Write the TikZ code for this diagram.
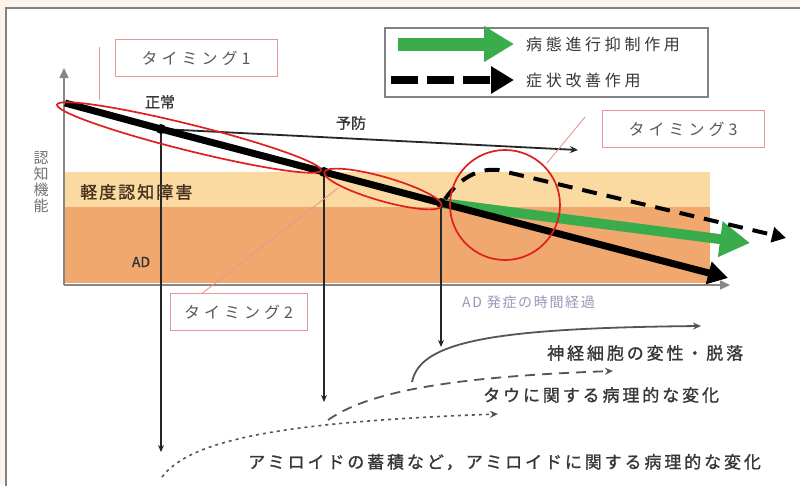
\documentclass[tikz,border=0pt]{standalone}
\usepackage{fontspec}
\usetikzlibrary{arrows.meta}
\newfontfamily\jp{Noto Sans CJK JP}
\newfontfamily\jpb[FakeBold=1.2]{Noto Sans CJK JP}
\definecolor{creamc}{RGB}{252,244,236}
\definecolor{framec}{RGB}{130,130,130}
\definecolor{lightband}{RGB}{250,218,160}
\definecolor{orangeband}{RGB}{240,168,110}
\definecolor{greenc}{RGB}{58,172,75}
\definecolor{redc}{RGB}{225,30,30}
\definecolor{pinkc}{RGB}{232,150,150}
\definecolor{axisc}{RGB}{135,135,135}
\definecolor{txtc}{RGB}{55,55,55}
\definecolor{brownc}{RGB}{70,50,30}
\definecolor{lavc}{RGB}{150,150,185}
\definecolor{curvec}{RGB}{85,85,85}
\begin{document}
\begin{tikzpicture}[x=1pt,y=-1pt,
  tbox/.style={draw=pinkc, line width=1pt, fill=white, minimum height=37pt, inner sep=0pt,
    font=\jp\fontsize{16}{18}\selectfont\addfontfeature{LetterSpace=25}, text=black!65},
  lbl/.style={font=\jpb\fontsize{15}{17}\selectfont, text=txtc, inner sep=0pt},
  btxt/.style={font=\jpb\fontsize{17}{19}\selectfont\addfontfeature{LetterSpace=17}, text=txtc, inner sep=0pt, anchor=west},
  legtxt/.style={font=\jp\fontsize{16}{18}\selectfont\addfontfeature{LetterSpace=23}, text=txtc, inner sep=0pt, anchor=west},
  ring/.style={draw=redc, line width=1.7pt},
  leader/.style={draw=pinkc, line width=0.9pt},
  drop/.style={draw=black!85, line width=2pt, -{Stealth[length=7pt,width=6pt]}},
  gcurve/.style={draw=curvec, line width=1.8pt, -{Stealth[length=8pt,width=7pt]}},
]
\useasboundingbox (0,0) rectangle (800,485);
\fill[creamc] (0,0) rectangle (800,485);
\draw[framec, line width=1.5pt, fill=white] (6,8) rectangle (812,495);

% bands
\fill[lightband] (65,172) rectangle (710,207);
\fill[orangeband] (65,207) rectangle (710,283);

% axes
\coordinate (O) at (64,285);
\coordinate (Ytip) at (64,68);
\coordinate (Xtip) at (730,285);
\draw[axisc, line width=1.6pt, -{Triangle[length=10pt,width=9pt]}] (O) -- (Ytip);
\draw[axisc, line width=1.6pt, -{Triangle[length=10pt,width=9pt]}] (O) -- (Xtip);

% main line points
\coordinate (S) at (65,103);
\coordinate (J1) at (161,129);
\coordinate (J2) at (324,172);
\coordinate (J3) at (441,203);
\coordinate (E) at (728,278);

% prevention line
\coordinate (P) at (578,150);
\draw[black!85, line width=1.8pt, -{Stealth[length=8pt,width=7pt]}] (J1) -- (P);

% drop lines
\coordinate (D1) at (161,452);
\coordinate (D2) at (324,402);
\coordinate (D3) at (441,347);
\draw[drop] (J1) -- (D1);
\draw[drop] (J2) -- (D2);
\draw[drop] (J3) -- (D3);

% green arrow
\coordinate (G) at (750,243);
\draw[greenc, line width=10pt, -{Triangle[length=30pt,width=34pt]}] (J3) -- (G);

% main black arrow
\draw[black, line width=7pt, -{Triangle[length=20pt,width=22pt]}] (S) -- (J1) -- (J2) -- (J3) -- (E);
\fill[black] (J1) circle [radius=5];
\fill[black] (J2) circle [radius=5];
\fill[black] (J3) circle [radius=5];

% dashed symptomatic arrow
\coordinate (DS) at (445,199);
\coordinate (DP) at (498,170);
\coordinate (DE) at (786,238);
\draw[black, line width=4pt, dash pattern=on 15pt off 10pt, -{Triangle[length=14pt,width=15pt]}]
  (DS) .. controls (460,178) and (478,168) .. (DP) -- (DE);

% red rings
\draw[ring, rotate around={-14:(189,137.5)}] (189,137.5) ellipse [x radius=136, y radius=13];
\draw[ring, rotate around={-16:(383,189)}] (383,189) ellipse [x radius=61, y radius=12];
\draw[ring] (505,205) circle [radius=55];

% timing boxes and leaders
\node[tbox, minimum width=162pt] (T1) at (196,58) {タイミング1};
\node[tbox, minimum width=137pt] (T2) at (238.5,312) {タイミング2};
\node[tbox, minimum width=162pt] (T3) at (683,129) {タイミング3};
\coordinate (L1a) at (99,47);
\coordinate (L1b) at (99,100);
\draw[leader] (L1a) -- (L1b);
\coordinate (L2) at (338,188);
\draw[leader] (T2.north west) ++(33,0) coordinate (L2s) -- (L2);
\coordinate (L3a) at (585,117);
\coordinate (L3b) at (547,163);
\draw[leader] (L3a) -- (L3b);

% chart labels
\node[lbl] (normal) at (160,102) {正常};
\node[lbl] (prev) at (351,123) {予防};
\node[lbl, anchor=west, text=brownc, font=\jpb\fontsize{17}{19}\selectfont\addfontfeature{LetterSpace=12}] (mci) at (80,192) {軽度認知障害};
\node[lbl, font=\jpb\fontsize{14}{16}\selectfont, text=black!80] (ad) at (141,262) {AD};
\node[anchor=west, inner sep=0pt, text=lavc, font=\jp\fontsize{14}{16}\selectfont\addfontfeature{LetterSpace=12}] (time) at (462,302) {AD 発症の時間経過};

% y-axis label
\node[inner sep=0pt, text=black!55, font=\jp\fontsize{15}{16}\selectfont, align=center] (ylab) at (41,182)
  {認\\知\\機\\能};

% legend
\node[draw=framec, line width=1.5pt, minimum width=323pt, minimum height=69pt, inner sep=0pt] (leg) at (546.5,62.5) {};
\coordinate (LG1) at (398,44);
\coordinate (LG2) at (514,44);
\draw[greenc, line width=13pt, -{Triangle[length=30pt,width=34pt]}] (LG1) -- (LG2);
\coordinate (LD1) at (391,80);
\coordinate (LD2) at (514,80);
\draw[black, line width=8pt, dash pattern=on 27pt off 9pt, -{Triangle[length=23pt,width=26pt]}] (LD1) -- (LD2);
\node[legtxt] (leg1) at (526,44) {病態進行抑制作用};
\node[legtxt] (leg2) at (526,80) {症状改善作用};

% pathology curves
\coordinate (C1s) at (412,382);
\coordinate (C1e) at (701,326);
\draw[gcurve] (C1s) .. controls (420,342) and (490,328) .. (C1e);
\coordinate (C2s) at (328,420);
\coordinate (C2e) at (613,371);
\draw[gcurve, dash pattern=on 10pt off 7pt] (C2s) .. controls (365,394) and (440,377) .. (C2e);
\coordinate (C3s) at (162,477);
\coordinate (C3e) at (498,414);
\draw[gcurve, line width=1.6pt, dash pattern=on 3pt off 4pt] (C3s) .. controls (190,440) and (280,422) .. (C3e);

\node[btxt] (neuro) at (547,353) {神経細胞の変性・脱落};
\node[btxt] (tau) at (483,395) {タウに関する病理的な変化};
\node[btxt] (amy) at (248,462) {アミロイドの蓄積など，アミロイドに関する病理的な変化};
\end{tikzpicture}
\end{document}
